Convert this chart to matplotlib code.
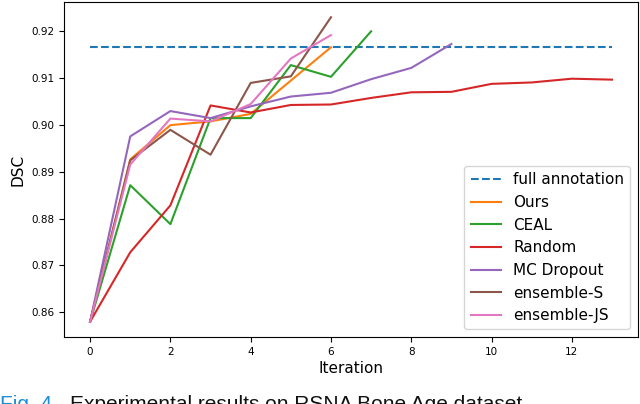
import matplotlib
matplotlib.use("Agg")
import matplotlib.pyplot as plt

full_annotation = 0.9166

ours_x = [0, 1, 2, 3, 4, 5, 6]
ours_y = [0.8580, 0.8926, 0.8999, 0.9007, 0.9023, 0.9094, 0.9165]

ceal_x = [0, 1, 2, 3, 4, 5, 6, 7]
ceal_y = [0.8580, 0.8871, 0.8788, 0.9014, 0.9014, 0.9127, 0.9102, 0.9199]

random_x = list(range(14))
random_y = [0.8580, 0.8728, 0.8828, 0.9041, 0.9026, 0.9042, 0.9043, 0.9057,
            0.9069, 0.9070, 0.9087, 0.9090, 0.9098, 0.9096]

mc_x = list(range(10))
mc_y = [0.8580, 0.8975, 0.9029, 0.9014, 0.9039, 0.9060, 0.9068, 0.9097,
        0.9121, 0.9172]

ens_s_x = [0, 1, 2, 3, 4, 5, 6]
ens_s_y = [0.8580, 0.8924, 0.8989, 0.8936, 0.9089, 0.9103, 0.9229]

ens_js_x = [0, 1, 2, 3, 4, 5, 6]
ens_js_y = [0.8580, 0.8915, 0.9013, 0.9007, 0.9044, 0.9141, 0.9191]

fig = plt.figure(figsize=(6.4, 4.04), dpi=100)
ax = fig.add_axes([0.1, 0.166, 0.897, 0.829])

ax.plot([0, 13], [full_annotation, full_annotation], linestyle="--",
        color="#1f77b4", label="full annotation")
ax.plot(ours_x, ours_y, color="#ff7f0e", label="Ours")
ax.plot(ceal_x, ceal_y, color="#2ca02c", label="CEAL")
ax.plot(random_x, random_y, color="#d62728", label="Random")
ax.plot(mc_x, mc_y, color="#9467bd", label="MC Dropout")
ax.plot(ens_s_x, ens_s_y, color="#8c564b", label="ensemble-S")
ax.plot(ens_js_x, ens_js_y, color="#e377c2", label="ensemble-JS")

ax.set_xticks([0, 2, 4, 6, 8, 10, 12])
ax.set_yticks([0.86, 0.87, 0.88, 0.89, 0.90, 0.91, 0.92])
ax.tick_params(labelsize=7.5)
ax.set_xlabel("Iteration", fontsize=11, labelpad=3)
ax.set_ylabel("DSC", fontsize=11, labelpad=4)
ax.legend(loc="lower right", fontsize=11)

fig.text(0.0, 0.022, "Fig. 4.", color="#1a8fd8", fontsize=15,
         family="Liberation Sans", va="top", ha="left")
fig.text(0.109, 0.022, "Experimental results on RSNA Bone Age dataset.",
         color="#111111", fontsize=15, family="Liberation Sans",
         va="top", ha="left")

fig.savefig("out.png", dpi=100)
